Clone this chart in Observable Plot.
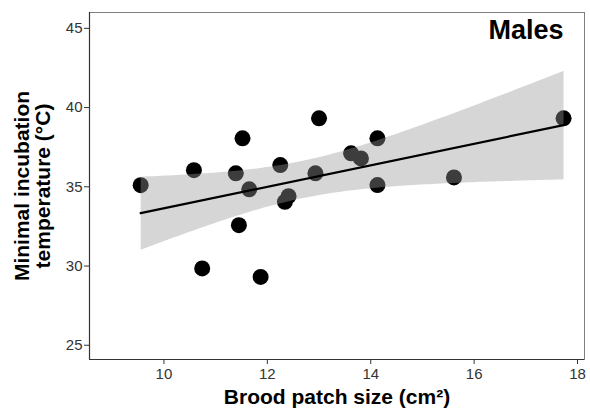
<!DOCTYPE html>
<html>
<head>
<meta charset="utf-8">
<script src="https://cdn.jsdelivr.net/npm/d3@7"></script>
<script src="https://cdn.jsdelivr.net/npm/@observablehq/plot@0.6"></script>
<style>
  html, body { margin: 0; padding: 0; background: #fff; }
  #chart svg { display: block; }
</style>
</head>
<body>
<div id="chart"></div>
<script>
// Brood patch size (cm²) and minimal incubation temperature (°C), males
const patchSize = [9.55, 10.58, 10.74, 11.39, 11.45, 11.52, 11.65, 11.87, 12.25, 12.34, 12.41, 12.93, 13.0, 13.62, 13.81, 14.13, 14.13, 15.61, 17.73];
const minTemp   = [35.1, 36.05, 29.85, 35.85, 32.58, 38.06, 34.84, 29.31, 36.37, 34.05, 34.41, 35.85, 39.32, 37.11, 36.79, 38.06, 35.11, 35.59, 39.32];
const xTicks = [10, 12, 14, 16, 18];
const yTicks = [25, 30, 35, 40, 45];
const xDomain = [8.56, 18.135];
const yDomain = [24.1, 46.0];
const panelTitle = "Males";
const xLabel = "Brood patch size (cm²)";
const yLabel = "Minimal incubation\ntemperature (°C)";

const data = patchSize.map((x, i) => ({x, y: minTemp[i]}));

const chart = Plot.plot({
  width: 590,
  height: 410,
  marginLeft: 89,
  marginRight: 6,
  marginTop: 12,
  marginBottom: 51,
  style: {fontFamily: "'Liberation Sans', Arial, sans-serif", fontSize: "15px", color: "#333", background: "#fff"},
  x: {domain: xDomain, ticks: xTicks, tickSize: 5, tickPadding: 4, label: null},
  y: {domain: yDomain, ticks: yTicks, tickSize: 5, tickPadding: 2, label: null},
  marks: [
    Plot.dot(data, {x: "x", y: "y", r: 8, fill: "black", stroke: "none"}),
    Plot.linearRegressionY(data, {x: "x", y: "y", ci: 0.95, fill: "#999999", fillOpacity: 0.4, stroke: "black", strokeWidth: 2.2}),
    Plot.frame({stroke: "#808080", strokeWidth: 1}),
    Plot.ruleX([xDomain[0]], {stroke: "#333", strokeWidth: 1.2}),
    Plot.ruleY([yDomain[0]], {stroke: "#333", strokeWidth: 1.2}),
    Plot.text([panelTitle], {frameAnchor: "top-right", textAnchor: "end", lineAnchor: "middle", dx: -21, dy: 17.5, text: d => d, fontSize: 27, fontWeight: "bold", fill: "black"}),
    Plot.text([xLabel], {frameAnchor: "bottom", textAnchor: "middle", lineAnchor: "middle", dy: 38, text: d => d, fontSize: 21, fontWeight: "bold", fill: "black"}),
    Plot.text([yLabel], {frameAnchor: "left", textAnchor: "middle", lineAnchor: "middle", rotate: -90, dx: -57, text: d => d, fontSize: 21, lineHeight: 1.0, fontWeight: "bold", fill: "black"})
  ]
});
document.getElementById("chart").appendChild(chart);
</script>
</body>
</html>
